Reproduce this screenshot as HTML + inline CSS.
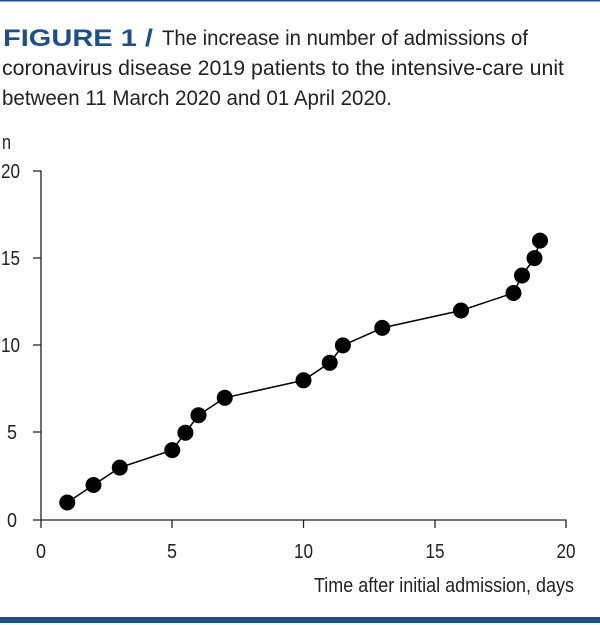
<!DOCTYPE html>
<html><head><style>
html,body{margin:0;padding:0;background:#fff;}
svg{display:block;}
text{font-family:"Liberation Sans",sans-serif;fill:#222;}
</style></head><body>
<svg width="600" height="625" viewBox="0 0 600 625" xmlns="http://www.w3.org/2000/svg">
<rect x="0" y="0" width="600" height="1.5" fill="#1d4f8a"/>
<rect x="0" y="617" width="600" height="6" fill="#1d4f8a"/>
<text x="3" y="46" font-size="24" font-weight="bold" style="fill:#1d4f8a" textLength="150" lengthAdjust="spacingAndGlyphs">FIGURE 1 /</text>
<text x="162" y="45" font-size="21" textLength="366" lengthAdjust="spacingAndGlyphs">The increase in number of admissions of</text>
<text x="2" y="75" font-size="21" textLength="562" lengthAdjust="spacingAndGlyphs">coronavirus disease 2019 patients to the intensive-care unit</text>
<text x="2" y="105" font-size="21" textLength="390" lengthAdjust="spacingAndGlyphs">between 11 March 2020 and 01 April 2020.</text>
<text x="2" y="149" font-size="20" textLength="9" lengthAdjust="spacingAndGlyphs">n</text>
<g stroke="#222" stroke-width="1.3" fill="none">
<path d="M33 171H41V520H566V528M33 258H41M33 345H41M33 432H41M33 520H41M41 520V528M172 520V528M303.5 520V528M435 520V528"/>
</g>
<g font-size="20">
<text x="1" y="178" textLength="19" lengthAdjust="spacingAndGlyphs">20</text>
<text x="1" y="265" textLength="19" lengthAdjust="spacingAndGlyphs">15</text>
<text x="1" y="352" textLength="19" lengthAdjust="spacingAndGlyphs">10</text>
<text x="7" y="439" textLength="10" lengthAdjust="spacingAndGlyphs">5</text>
<text x="7" y="527" textLength="10" lengthAdjust="spacingAndGlyphs">0</text>
<text x="36" y="558" textLength="10" lengthAdjust="spacingAndGlyphs">0</text>
<text x="167" y="558" textLength="10" lengthAdjust="spacingAndGlyphs">5</text>
<text x="294" y="558" textLength="19" lengthAdjust="spacingAndGlyphs">10</text>
<text x="425.5" y="558" textLength="19" lengthAdjust="spacingAndGlyphs">15</text>
<text x="556.5" y="558" textLength="19" lengthAdjust="spacingAndGlyphs">20</text>
</g>
<text x="314" y="592" font-size="20" textLength="260" lengthAdjust="spacingAndGlyphs">Time after initial admission, days</text>
<polyline fill="none" stroke="#000" stroke-width="1.5" points="67.25,502.5 93.5,485 119.75,467.6 172.25,450.1 185.4,432.7 198.5,415.2 224.75,397.8 303.5,380.3 329.75,362.8 342.9,345.4 382.25,327.9 461,310.5 513.5,293 522,275.5 534.5,258.1 540,240.6"/>
<g fill="#000">
<circle cx="67.25" cy="502.5" r="8"/><circle cx="93.5" cy="485" r="8"/><circle cx="119.75" cy="467.6" r="8"/><circle cx="172.25" cy="450.1" r="8"/><circle cx="185.4" cy="432.7" r="8"/><circle cx="198.5" cy="415.2" r="8"/><circle cx="224.75" cy="397.8" r="8"/><circle cx="303.5" cy="380.3" r="8"/><circle cx="329.75" cy="362.8" r="8"/><circle cx="342.9" cy="345.4" r="8"/><circle cx="382.25" cy="327.9" r="8"/><circle cx="461" cy="310.5" r="8"/><circle cx="513.5" cy="293" r="8"/><circle cx="522" cy="275.5" r="8"/><circle cx="534.5" cy="258.1" r="8"/><circle cx="540" cy="240.6" r="8"/>
</g>
</svg>
</body></html>
